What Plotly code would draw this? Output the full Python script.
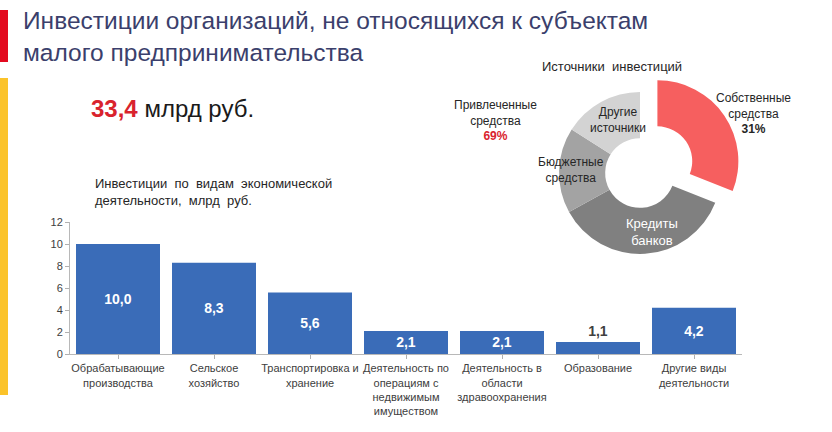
import plotly.graph_objects as go

W, H = 832, 432

# ---- data ----
categories = ["Обрабатывающие<br>производства", "Сельское<br>хозяйство", "Транспортировка и<br>хранение",
              "Деятельность по<br>операциям с<br>недвижимым<br>имуществом",
              "Деятельность в<br>области<br>здравоохранения", "Образование", "Другие виды<br>деятельности"]
values = [10.0, 8.3, 5.6, 2.1, 2.1, 1.1, 4.2]
value_labels = ["10,0", "8,3", "5,6", "2,1", "2,1", "1,1", "4,2"]
y_ticks = [0, 2, 4, 6, 8, 10, 12]

source_labels = ["Собственные<br>средства", "Кредиты<br>банков", "Бюджетные<br>средства", "Другие<br>источники"]
source_values = [31, 36, 17, 16]
source_colors = ["#f65f5f", "#808080", "#a3a3a3", "#d3d3d3"]

total_text = "33,4"
own_share = "31%"
borrowed_share = "69%"


def px(x):
    return x / W


def py(y):
    return 1 - y / H


fig = go.Figure()

pos = []
tcol = []
for v in values:
    if v < 1.5:
        pos.append("outside")
        tcol.append("#404040")
    else:
        pos.append("inside")
        tcol.append("white")

fig.add_trace(go.Bar(
    x=list(range(len(values))), y=values,
    text=value_labels, textposition=pos, insidetextanchor="middle",
    textfont=dict(color=tcol, size=14, family="Liberation Sans, Arial", weight="bold"),
    cliponaxis=False,
    marker=dict(color="#3a6cb8", line=dict(width=0)),
    width=0.875, xaxis="x", yaxis="y", showlegend=False, hoverinfo="skip",
))

fig.add_trace(go.Pie(
    values=source_values, labels=source_labels, sort=False, direction="clockwise", rotation=0,
    hole=0.43, pull=[0.26, 0, 0, 0], textinfo="none",
    marker=dict(colors=source_colors, line=dict(width=0)),
    domain=dict(x=[px(538), px(742)], y=[py(275), py(71)]),
    showlegend=False, hoverinfo="skip",
))

fig.update_layout(
    width=W, height=H, margin=dict(l=0, r=0, t=0, b=0, autoexpand=False),
    paper_bgcolor="white", plot_bgcolor="rgba(0,0,0,0)",
    font=dict(family="Liberation Sans, Arial", color="#333333"),
    xaxis=dict(domain=[px(70), px(742)], range=[-0.5, len(values) - 0.5],
               tickmode="array", tickvals=list(range(len(values))), ticktext=categories,
               tickson="boundaries", ticks="outside", ticklen=4, tickcolor="#b0b0b0", tickangle=0,
               automargin=False,
               showline=True, linecolor="#b8b8b8", linewidth=1, showgrid=False, zeroline=False,
               tickfont=dict(family="Liberation Sans, Arial", size=11, color="#404040"),
               anchor="y", fixedrange=True),
    yaxis=dict(domain=[py(354), py(222)], range=[0, 12], tickvals=y_ticks, automargin=False,
               ticks="outside", ticklen=4, tickcolor="#b0b0b0",
               showline=True, linecolor="#b8b8b8", linewidth=1, showgrid=False, zeroline=False,
               tickfont=dict(size=11, color="#404040"), anchor="x", fixedrange=True),
    bargap=0.125,
)

shapes = [
    dict(type="rect", xref="paper", yref="paper", x0=0, x1=px(8), y0=py(62), y1=py(10),
         fillcolor="#e30a1f", line=dict(width=0)),
    dict(type="rect", xref="paper", yref="paper", x0=0, x1=px(8), y0=py(395), y1=py(78),
         fillcolor="#fbc32a", line=dict(width=0)),
]
fig.update_layout(shapes=shapes)

ann = []


def add(text, x, y, size, color="#333333", xanchor="center", bold=False, family=None):
    d = dict(text=text, x=px(x), y=py(y), xref="paper", yref="paper", showarrow=False,
             xanchor=xanchor, yanchor="middle", align=xanchor if xanchor != "middle" else "center",
             font=dict(size=size, color=color))
    if bold:
        d["font"]["weight"] = "bold"
    if family:
        d["font"]["family"] = family
    ann.append(d)


add("Инвестиции организаций, не относящихся к субъектам<br>малого предпринимательства", 21, 36, 24.5,
    color="#3b3f6c", xanchor="left")
add("<b><span style='color:#d9232d'>" + total_text + "</span></b> млрд руб.", 89, 108, 24,
    color="#1a1a1a", xanchor="left")
add("Инвестиции  по  видам  экономической<br>деятельности,  млрд  руб.", 93, 192, 13,
    color="#262626", xanchor="left")
add("Источники  инвестиций", 612, 67, 13, color="#262626")
add("Привлеченные<br>средства<br><b><span style='color:#d9232d'>" + borrowed_share + "</span></b>", 495, 120, 12,
    color="#262626")
add(source_labels[0] + "<br><b>" + own_share + "</b>", 753, 113, 12, color="#262626")
add(source_labels[1], 652, 232, 13, color="white")
add(source_labels[2], 571, 170, 12, color="#262626")
add(source_labels[3], 618, 120, 12, color="#262626")

fig.update_layout(annotations=ann)

fig.write_html("out.html")
